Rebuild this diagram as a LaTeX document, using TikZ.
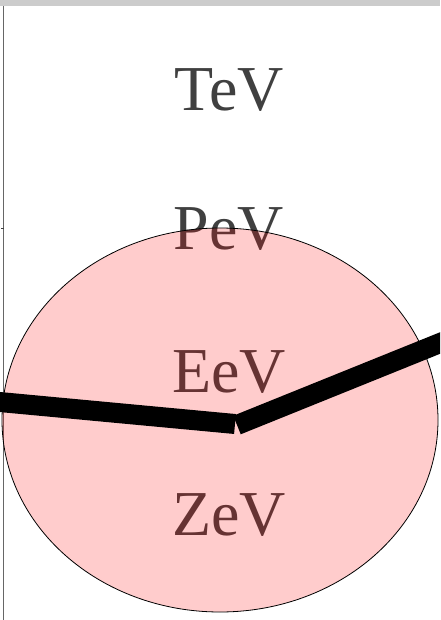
\documentclass[tikz,border=0pt]{standalone}
\usepackage{fontspec}
\setmainfont{Liberation Serif}
\usepackage{xcolor}
\usepackage{tikz}
\usetikzlibrary{calc}
\definecolor{labelgray}{HTML}{404040}
\definecolor{bargray}{HTML}{CCCCCC}
\definecolor{axisgray}{HTML}{666666}
\tikzset{
  scalelabel/.style={text=labelgray,anchor=base,inner sep=0pt,font=\fontsize{64}{76}\selectfont},
  blob/.style={draw=black,line width=0.8pt,fill=red,fill opacity=0.2},
  bentbar/.style={line width=20pt,line cap=butt,black}
}

\begin{document}
\begin{tikzpicture}[x=1pt,y=-1pt]
\useasboundingbox (0,0) rectangle (440,620);
% frame: top bar and left axis with one tick
\fill[bargray] (0,0) rectangle (440,6);
\draw[axisgray,line width=1.6pt] (3.5,6) -- (3.5,620);
\draw[labelgray,line width=1pt] (1,228) -- (3.5,228);
% energy labels
\node[scalelabel] (tev) at (229,111) {TeV};
\node[scalelabel] (pev) at (229,249) {PeV};
\node[scalelabel] (eev) at (229,392) {EeV};
\node[scalelabel] (zev) at (229,535) {ZeV};
% translucent region over the lower labels
\draw[blob] (220,420) ellipse [x radius=218,y radius=192];
% bent line
\coordinate (leftend) at (-10,401.1);
\coordinate (kneeL) at (235,424);
\coordinate (kneeR) at (237,425);
\coordinate (rightend) at (450,339);
\begin{scope}
\clip (0,0) rectangle (440,620);
\draw[bentbar] (leftend) -- (kneeL);
\draw[bentbar] (kneeR) -- (rightend);
\end{scope}
\end{tikzpicture}
\end{document}
